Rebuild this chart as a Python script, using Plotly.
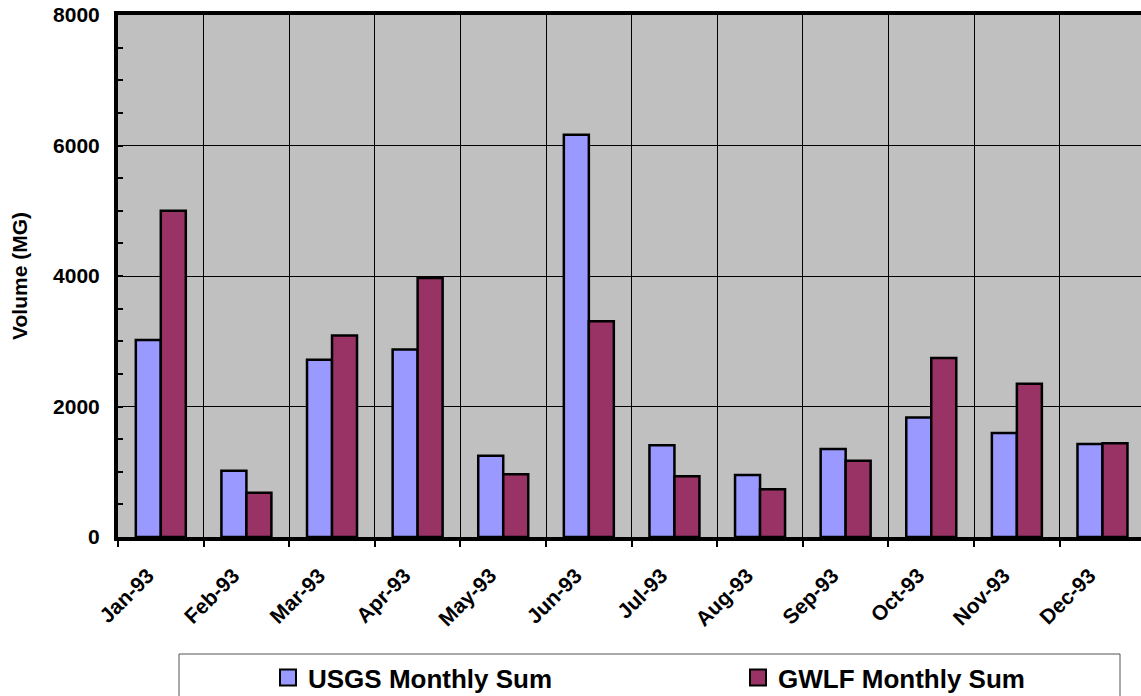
import plotly.graph_objects as go

months = ["Jan-93", "Feb-93", "Mar-93", "Apr-93", "May-93", "Jun-93",
          "Jul-93", "Aug-93", "Sep-93", "Oct-93", "Nov-93", "Dec-93"]
usgs = [3020, 1015, 2715, 2875, 1245, 6165, 1405, 950, 1350, 1830, 1595, 1425]
gwlf = [5000, 680, 3090, 3970, 960, 3305, 930, 730, 1170, 2745, 2350, 1435]
y_ticks = [0, 2000, 4000, 6000, 8000]
series = [("USGS Monthly Sum", usgs, "#9999FF"), ("GWLF Monthly Sum", gwlf, "#993366")]

W, H = 1141, 696
L, R, T, B = 118, 0, 15, 159
PW, PH = W - L - R, H - T - B


def px_x(px):
    return (px - L) / PW


def px_y(py):
    return (H - B - py) / PH


font_family = "Arial, Liberation Sans, sans-serif"

fig = go.Figure()
for name, vals, color in series:
    fig.add_trace(go.Bar(
        name=name, x=months, y=vals, legendgroup=name, showlegend=False,
        marker=dict(color=color, line=dict(color="black", width=2.5)),
    ))
# legend entries with larger square swatches
for name, vals, color in series:
    fig.add_trace(go.Scatter(
        name=name, x=[None], y=[None], mode="markers", legendgroup=name,
        marker=dict(symbol="square", size=16, color=color,
                    line=dict(color="black", width=2)),
        hoverinfo="skip",
    ))

# legend frame (extends below the visible page)
fig.add_shape(type="rect", xref="paper", yref="paper",
              x0=px_x(179), x1=px_x(1120), y0=px_y(740), y1=px_y(654),
              line=dict(color="#555555", width=1), fillcolor="white", layer="below")

fig.update_layout(
    width=W, height=H,
    margin=dict(l=L, r=R, t=T, b=B, autoexpand=False),
    paper_bgcolor="white",
    plot_bgcolor="#C0C0C0",
    barmode="group",
    bargap=0.416,
    bargroupgap=0,
    font=dict(family=font_family, color="black"),
    showlegend=True,
    legend=dict(
        orientation="h",
        x=px_x(268), xanchor="left",
        y=px_y(654), yanchor="top",
        bgcolor="rgba(0,0,0,0)",
        borderwidth=0,
        font=dict(size=26, family=font_family, weight="bold"),
        entrywidth=425, entrywidthmode="pixels",
        traceorder="normal",
        itemsizing="trace",
    ),
    xaxis=dict(
        type="category",
        range=[-0.5, 11.45],
        tickson="boundaries",
        ticks="outside", ticklen=6, tickwidth=1.5, tickcolor="black",
        showgrid=True, gridcolor="black", gridwidth=1,
        showline=True, linecolor="black", linewidth=4, mirror=True,
        tickangle=-45,
        tickfont=dict(size=21, family=font_family, weight="bold"),
        ticklabelstandoff=14,
        ticklabelshift=-13,
        fixedrange=True,
    ),
    yaxis=dict(
        range=[0, 8000],
        tickvals=y_ticks,
        ticks="inside", ticklen=5, tickwidth=1.5, tickcolor="black",
        minor=dict(dtick=500, ticks="inside", ticklen=5, tickwidth=1.5,
                   tickcolor="black", showgrid=False),
        showgrid=True, gridcolor="black", gridwidth=1,
        zeroline=False,
        showline=True, linecolor="black", linewidth=4,
        tickfont=dict(size=21, family=font_family, weight="bold"),
        ticklabelstandoff=10,
        title=dict(text="Volume (MG)", standoff=21,
                   font=dict(size=21, family=font_family, weight="bold")),
        fixedrange=True,
    ),
)

fig.write_html(
    "out.html",
    config={"displayModeBar": False},
    post_script="document.documentElement.style.margin='0';"
                "document.body.style.margin='0';"
                "document.body.style.overflow='hidden';",
)
